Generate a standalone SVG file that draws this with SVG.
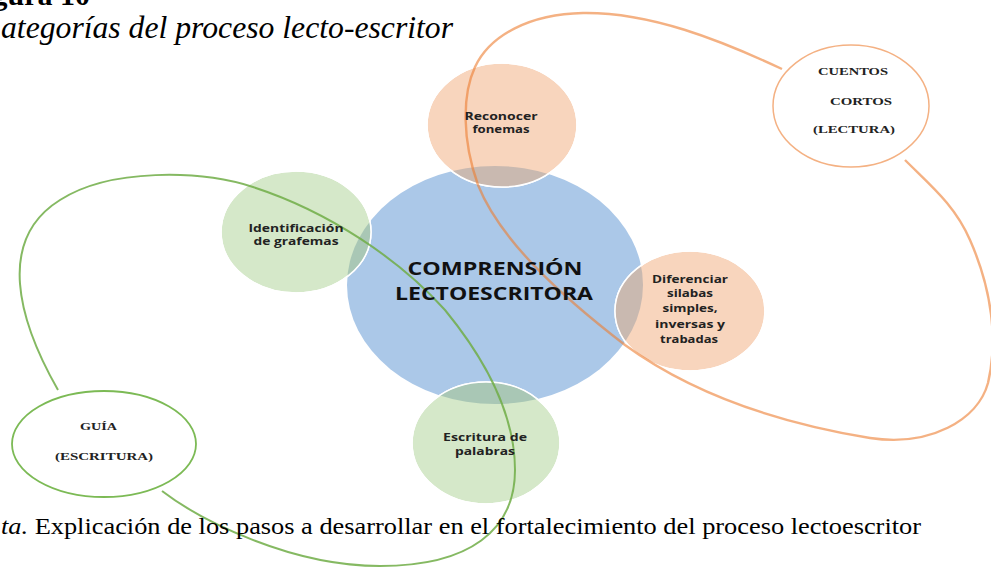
<svg xmlns="http://www.w3.org/2000/svg" width="991" height="567" viewBox="0 0 991 567">
<style>
.title{font-family:"Liberation Serif","Times New Roman",serif;fill:#000}
.lbl{font-family:"Open Sans","Liberation Sans",sans-serif;font-weight:bold;font-size:10px;fill:#222;text-anchor:middle}
.big{font-family:"Open Sans","Liberation Sans",sans-serif;font-weight:bold;font-size:17px;fill:#111;text-anchor:middle}
.ser{font-family:"Liberation Serif","Times New Roman",serif;font-weight:bold;font-size:11px;fill:#222}
.blue{fill:#abc8e8}
.peach{fill:#f8d5bd;stroke:#fff;stroke-width:1.5}
.green{fill:#d5e8c9;stroke:#fff;stroke-width:1.5}
.ovo{fill:#c9b9b0}
.ovg{fill:#a9c7b5}
.rim{fill:none;stroke:#fff;stroke-width:1.5}
.lo{fill:none;stroke:#ed7d31;stroke-opacity:0.6;stroke-width:2.4}
.lg{fill:none;stroke:#70ad47;stroke-opacity:0.85;stroke-width:2}
</style>
<defs>
<clipPath id="clipBlue"><ellipse cx="495" cy="285" rx="148" ry="119"/></clipPath>
</defs>
<rect width="991" height="567" fill="#fff"/>
<text class="title" x="90" y="5" text-anchor="end" font-weight="bold" font-size="30">gura 10</text>
<text class="title" x="453" y="38" text-anchor="end" font-style="italic" font-size="31" textLength="452" lengthAdjust="spacingAndGlyphs">ategorías del proceso lecto-escritor</text>

<g id="center">
<ellipse class="blue" cx="495" cy="285" rx="148" ry="119"/>
</g>
<g id="reconocer">
<ellipse class="peach" cx="502" cy="125" rx="75" ry="62"/>
<ellipse class="ovo" cx="502" cy="125" rx="75" ry="62" clip-path="url(#clipBlue)"/>
<ellipse class="rim" cx="502" cy="125" rx="75" ry="62"/>
</g>
<g id="identificacion">
<ellipse class="green" cx="296" cy="232" rx="75" ry="61"/>
<ellipse class="ovg" cx="296" cy="232" rx="75" ry="61" clip-path="url(#clipBlue)"/>
<ellipse class="rim" cx="296" cy="232" rx="75" ry="61"/>
</g>
<g id="diferenciar">
<ellipse class="peach" cx="690" cy="311" rx="75" ry="60"/>
<ellipse class="ovo" cx="690" cy="311" rx="75" ry="60" clip-path="url(#clipBlue)"/>
<ellipse class="rim" cx="690" cy="311" rx="75" ry="60"/>
</g>
<g id="escritura">
<ellipse class="green" cx="486" cy="443" rx="74" ry="61"/>
<ellipse class="ovg" cx="486" cy="443" rx="74" ry="61" clip-path="url(#clipBlue)"/>
<ellipse class="rim" cx="486" cy="443" rx="74" ry="61"/>
</g>

<g id="connectors">
<path class="lo" d="M 782 69 C 720 40, 650 12, 583 13 C 530 14, 490 35, 475 67 C 462 95, 462 140, 478 185 C 500 240, 560 295, 625 345 C 680 385, 760 420, 870 438 C 930 447, 978 420, 988 383 C 998 340, 992 290, 970 240 C 955 205, 930 185, 905 160"/>
<path class="lg" d="M 58 390 C 18 320, -4 240, 60 200 C 110 168, 200 170, 253 187 C 330 212, 400 260, 445 310 C 490 365, 515 420, 515 470 C 515 530, 470 566, 380 566 C 290 566, 200 520, 162 491"/>
</g>

<g id="cuentos">
<ellipse cx="851" cy="106" rx="78" ry="61" fill="#fff" stroke="#f4b183" stroke-width="1.5"/>
<text class="ser" x="818" y="75" textLength="70" lengthAdjust="spacingAndGlyphs">CUENTOS</text>
<text class="ser" x="830" y="105" textLength="62" lengthAdjust="spacingAndGlyphs">CORTOS</text>
<text class="ser" x="813" y="133" textLength="82" lengthAdjust="spacingAndGlyphs">(LECTURA)</text>
</g>
<g id="guia">
<ellipse cx="104" cy="444" rx="92" ry="53" fill="#fff" stroke="#7cba55" stroke-width="1.8"/>
<text class="ser" x="80" y="430" textLength="37" lengthAdjust="spacingAndGlyphs">GUÍA</text>
<text class="ser" x="55" y="460" textLength="98" lengthAdjust="spacingAndGlyphs">(ESCRITURA)</text>
</g>

<g id="labels">
<text class="big" x="495" y="275" textLength="175" lengthAdjust="spacingAndGlyphs">COMPRENSIÓN</text>
<text class="big" x="494" y="300" textLength="198" lengthAdjust="spacingAndGlyphs">LECTOESCRITORA</text>
<text class="lbl" x="501" y="120" textLength="73" lengthAdjust="spacingAndGlyphs">Reconocer</text>
<text class="lbl" x="501" y="133" textLength="57" lengthAdjust="spacingAndGlyphs">fonemas</text>
<text class="lbl" x="296" y="232" textLength="95" lengthAdjust="spacingAndGlyphs">Identificación</text>
<text class="lbl" x="296" y="245" textLength="85" lengthAdjust="spacingAndGlyphs">de grafemas</text>
<text class="lbl" x="690" y="283" textLength="76" lengthAdjust="spacingAndGlyphs">Diferenciar</text>
<text class="lbl" x="690" y="297" textLength="46" lengthAdjust="spacingAndGlyphs">silabas</text>
<text class="lbl" x="690" y="312" textLength="55" lengthAdjust="spacingAndGlyphs">simples,</text>
<text class="lbl" x="690" y="328" textLength="70" lengthAdjust="spacingAndGlyphs">inversas y</text>
<text class="lbl" x="689" y="343" textLength="58" lengthAdjust="spacingAndGlyphs">trabadas</text>
<text class="lbl" x="485" y="441" textLength="84" lengthAdjust="spacingAndGlyphs">Escritura de</text>
<text class="lbl" x="485" y="455" textLength="60" lengthAdjust="spacingAndGlyphs">palabras</text>
</g>

<text class="title" x="1" y="534" font-size="23" textLength="920" lengthAdjust="spacingAndGlyphs"><tspan font-style="italic">ta.</tspan> Explicación de los pasos a desarrollar en el fortalecimiento del proceso lectoescritor</text>
</svg>
